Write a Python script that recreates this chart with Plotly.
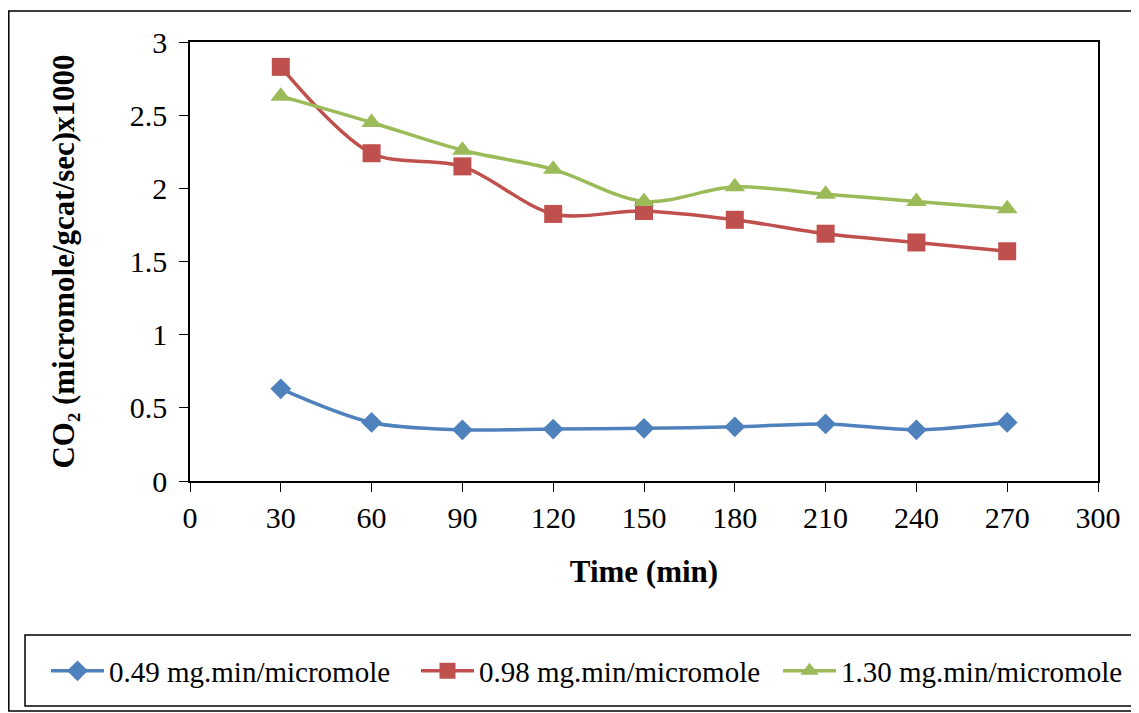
import plotly.graph_objects as go

time_min = [30, 60, 90, 120, 150, 180, 210, 240, 270]
s049 = [0.63, 0.40, 0.35, 0.355, 0.36, 0.37, 0.39, 0.35, 0.40]
s098 = [2.83, 2.24, 2.15, 1.825, 1.845, 1.785, 1.69, 1.63, 1.57]
s130 = [2.63, 2.45, 2.26, 2.13, 1.91, 2.01, 1.96, 1.91, 1.86]
names = ["0.49 mg.min/micromole", "0.98 mg.min/micromole", "1.30 mg.min/micromole"]
colors = ["#4F81BD", "#C0504D", "#9BBB59"]
symbols = ["diamond", "square", "triangle-up"]
sizes = [16, 18, 18]
legend_ids = ["legend", "legend2", "legend3"]

# page body has an 8px margin; work in screen coordinates and shift
OFF = 8
W, H = 1139 - OFF, 713 - OFF
SX0, SX1, SY0, SY1 = 190, 1098, 42, 481
L, R, T, B = SX0 - OFF, W - (SX1 - OFF), SY0 - OFF, H - (SY1 - OFF)
pw, ph = W - L - R, H - T - B

def px(x):
    return (x - OFF - L) / pw

def py(y):
    return (H - B - (y - OFF)) / ph

fig = go.Figure()
for ys, n, c, s, sz, lg in zip([s049, s098, s130], names, colors, symbols, sizes, legend_ids):
    fig.add_trace(go.Scatter(
        x=time_min, y=ys, name=n, mode="lines+markers", legend=lg,
        line=dict(color=c, width=3.5, shape="spline", smoothing=0.9),
        marker=dict(symbol=s, size=sz, color=c),
    ))

font = "Liberation Serif, Times New Roman, serif"

def leg(xs):
    return dict(orientation="h", x=px(xs), y=py(671), xanchor="left", yanchor="middle",
                font=dict(size=29), itemwidth=53, bgcolor="rgba(0,0,0,0)")

fig.update_layout(
    width=W, height=H,
    margin=dict(l=L, r=R, t=T, b=B, autoexpand=False),
    paper_bgcolor="white", plot_bgcolor="white",
    font=dict(family=font, size=30, color="black"),
    showlegend=True,
    legend=leg(46), legend2=leg(416), legend3=leg(778),
    xaxis=dict(range=[0, 300], tickvals=list(range(0, 301, 30)), showgrid=False,
               showline=True, linecolor="black", linewidth=1.5, mirror=True,
               ticks="outside", ticklen=9, tickcolor="black", zeroline=False,
               tickfont=dict(size=30),
               title=dict(text="<b>Time (min)</b>", font=dict(size=31), standoff=28)),
    yaxis=dict(range=[0, 3], tickvals=[0, 0.5, 1, 1.5, 2, 2.5, 3],
               ticktext=["0", "0.5", "1", "1.5", "2", "2.5", "3"], showgrid=False,
               showline=True, linecolor="black", linewidth=1.5, mirror=True,
               ticks="outside", ticklen=9, tickcolor="black", zeroline=False,
               tickfont=dict(size=30), ticklabelstandoff=6,
               title=dict(text="<b>CO₂ (micromole/gcat/sec)x1000</b>", font=dict(size=31), standoff=46)),
)
# outer chart border
fig.add_shape(type="rect", xref="paper", yref="paper",
              x0=px(8.8), x1=px(1160), y0=py(711), y1=py(11),
              line=dict(color="black", width=1.5), layer="below")
# legend box
fig.add_shape(type="rect", xref="paper", yref="paper",
              x0=px(25), x1=px(1160), y0=py(706), y1=py(635),
              line=dict(color="black", width=1.5), layer="below")

fig.write_html("out.html")
